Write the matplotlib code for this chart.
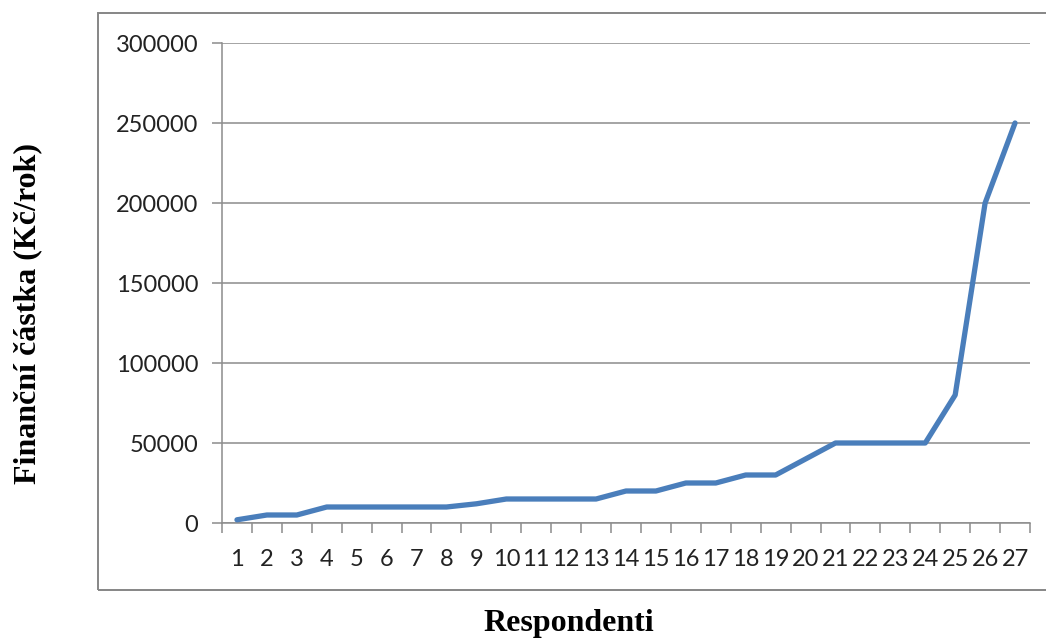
import numpy as np
import matplotlib
matplotlib.use("Agg")
import matplotlib.pyplot as plt
from matplotlib.patches import Rectangle
from matplotlib.ticker import FixedLocator

respondents = list(range(1, 28))
amounts = [2000, 5000, 5000, 10000, 10000, 10000, 10000, 10000, 12000,
           15000, 15000, 15000, 15000, 20000, 20000, 25000, 25000,
           30000, 30000, 40000, 50000, 50000, 50000, 50000,
           80000, 200000, 250000]
y_ticks = [0, 50000, 100000, 150000, 200000, 250000, 300000]

W, H = 1046, 642
grey = "#8c8c8c"
tick_font = "Lato"

fig = plt.figure(figsize=(W / 100, H / 100), dpi=100)
ax = fig.add_axes([222 / W, 1 - 523 / H, (1030 - 222) / W, (523 - 43) / H])

ax.plot(respondents, amounts, color="#4a7ebb", lw=3.8, solid_joinstyle="round",
        solid_capstyle="round", zorder=3)

ax.set_xlim(0.5, 27.5)
ax.set_ylim(0, 300000)
ax.set_yticks(y_ticks)
ax.set_yticklabels([str(v) for v in y_ticks], fontfamily=tick_font, fontsize=17,
                   color="#222222")
ax.set_xticks(respondents)
ax.set_xticklabels([str(r) for r in respondents], fontfamily=tick_font,
                   fontsize=17, color="#222222")
ax.xaxis.set_minor_locator(FixedLocator(np.arange(0.5, 28, 1.0)))

ax.tick_params(axis="x", which="major", length=0, pad=19)
ax.tick_params(axis="x", which="minor", length=7, width=1.1, color=grey,
               direction="out")
ax.tick_params(axis="y", which="major", length=7, width=1.1, color=grey,
               direction="out", pad=10)

ax.yaxis.grid(True, color=grey, lw=1.1)
ax.set_axisbelow(True)
for side in ("top", "right"):
    ax.spines[side].set_visible(False)
for side in ("left", "bottom"):
    ax.spines[side].set_color(grey)
    ax.spines[side].set_linewidth(1.1)

# outer chart frame (runs past the right edge)
fig.add_artist(Rectangle((98 / W, 1 - 590 / H), 1000 / W, (590 - 13) / H,
                         transform=fig.transFigure, fill=False,
                         edgecolor="#868686", lw=1.4))

fig.text(28 / W, 1 - 314 / H, "Finanční částka (Kč/rok)", rotation=90,
         ha="center", va="center", fontfamily="Liberation Serif",
         fontweight="bold", fontsize=23)
fig.text(569 / W, 1 - 624 / H, "Respondenti", ha="center", va="center",
         fontfamily="Liberation Serif", fontweight="bold", fontsize=23)

fig.savefig("out.png", dpi=100)
